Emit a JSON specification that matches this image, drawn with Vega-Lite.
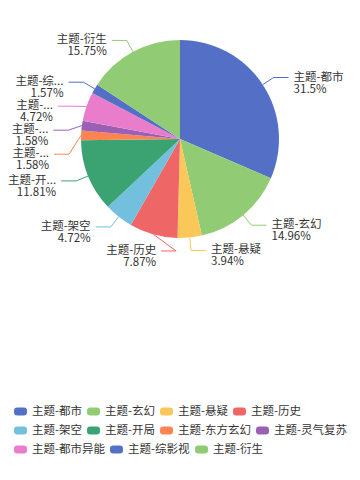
{
  "$schema": "https://vega.github.io/schema/vega-lite/v6.json",
  "width": 360,
  "height": 278,
  "padding": 0,
  "background": "#ffffff",
  "config": {
    "view": {"stroke": null},
    "font": "Noto Sans CJK SC",
    "legend": {
      "orient": "none",
      "direction": "horizontal",
      "padding": 0,
      "labelFontSize": 11.5,
      "labelColor": "#333333",
      "labelOffset": 5,
      "columnPadding": 5,
      "symbolOpacity": 1,
      "symbolStrokeWidth": 0
    }
  },
  "data": {
    "values": [
      {"name": "主题-都市", "label": "主题-都市", "value": 31.5},
      {"name": "主题-玄幻", "label": "主题-玄幻", "value": 14.96},
      {"name": "主题-悬疑", "label": "主题-悬疑", "value": 3.94},
      {"name": "主题-历史", "label": "主题-历史", "value": 7.87},
      {"name": "主题-架空", "label": "主题-架空", "value": 4.72},
      {"name": "主题-开局", "label": "主题-开...", "value": 11.81},
      {"name": "主题-东方玄幻", "label": "主题-...", "value": 1.58},
      {"name": "主题-灵气复苏", "label": "主题-...", "value": 1.58},
      {"name": "主题-都市异能", "label": "主题-...", "value": 4.72},
      {"name": "主题-综影视", "label": "主题-综...", "value": 1.57},
      {"name": "主题-衍生", "label": "主题-衍生", "value": 15.75}
    ]
  },
  "transform": [
    {"window": [{"op": "row_number", "as": "i"}]},
    {"joinaggregate": [{"op": "sum", "field": "value", "as": "total"}]},
    {"window": [{"op": "sum", "field": "value", "as": "cum"}], "sort": [{"field": "i"}], "frame": [null, 0]},
    {"calculate": "2*PI*(datum.cum - datum.value/2)/datum.total", "as": "a"},
    {"calculate": "sin(datum.a) >= 0 ? 1 : -1", "as": "side"},
    {"calculate": "112*cos(datum.a)", "as": "yn"},
    {"window": [{"op": "row_number", "as": "k"}], "groupby": ["side"], "sort": [{"field": "yn", "order": "descending"}]},
    {"calculate": "datum.yn + 24*datum.k", "as": "z"},
    {"window": [{"op": "min", "field": "z", "as": "zm"}], "groupby": ["side"], "sort": [{"field": "yn", "order": "descending"}], "frame": [null, 0]},
    {"calculate": "datum.zm - 24*datum.k", "as": "ya"},
    {"calculate": "datum.side*sqrt(max(0, 112*112 - datum.ya*datum.ya))", "as": "cx"},
    {"calculate": "datum.cx + datum.side*15", "as": "ex"},
    {"calculate": "datum.cx + datum.side*20", "as": "tx"},
    {"calculate": "99*sin(datum.a)", "as": "x0"},
    {"calculate": "99*cos(datum.a)", "as": "y0"},
    {"calculate": "datum.label + '\\n' + datum.value + '%'", "as": "txt"}
  ],
  "layer": [
    {
      "mark": {"type": "arc", "outerRadius": 99},
      "encoding": {
        "theta": {"field": "value", "type": "quantitative", "stack": true},
        "order": {"field": "i", "type": "quantitative"},
        "fill": {
          "field": "name",
          "type": "nominal",
          "scale": {
            "domain": ["主题-都市", "主题-玄幻", "主题-悬疑", "主题-历史", "主题-架空", "主题-开局", "主题-东方玄幻", "主题-灵气复苏", "主题-都市异能", "主题-综影视", "主题-衍生"],
            "range": ["#5470c6", "#91cc75", "#fac858", "#ee6666", "#73c0de", "#3ba272", "#fc8452", "#9a60b4", "#ea7ccc", "#5470c6", "#91cc75"]
          },
          "legend": {
            "title": null,
            "legendX": 14,
            "legendY": 405,
            "values": ["主题-都市", "主题-玄幻", "主题-悬疑", "主题-历史"],
            "symbolType": "M-0.5,-0.62H0.5Q1,-0.62 1,-0.12V0.12Q1,0.62 0.5,0.62H-0.5Q-1,0.62 -1,0.12V-0.12Q-1,-0.62 -0.5,-0.62Z",
            "symbolSize": 169,
            "symbolStrokeWidth": 0
          }
        }
      }
    },
    {
      "mark": {"type": "rule", "strokeWidth": 1},
      "encoding": {
        "x": {"field": "x0", "type": "quantitative", "scale": {"domain": [-180, 180], "nice": false, "zero": false}, "axis": null},
        "y": {"field": "y0", "type": "quantitative", "scale": {"domain": [-139, 139], "nice": false, "zero": false}, "axis": null},
        "x2": {"field": "cx"},
        "y2": {"field": "ya"},
        "stroke": {
          "field": "name",
          "type": "nominal",
          "scale": {
            "domain": ["主题-衍生", "主题-综影视", "主题-都市异能", "主题-灵气复苏", "主题-东方玄幻", "主题-开局", "主题-架空", "主题-历史", "主题-悬疑", "主题-玄幻", "主题-都市"],
            "range": ["#91cc75", "#5470c6", "#ea7ccc", "#9a60b4", "#fc8452", "#3ba272", "#73c0de", "#ee6666", "#fac858", "#91cc75", "#5470c6"]
          },
          "legend": {
            "title": null,
            "legendX": 14,
            "legendY": 424,
            "values": ["主题-架空", "主题-开局", "主题-东方玄幻", "主题-灵气复苏"],
            "symbolType": "M-0.5,-0.62H0.5Q1,-0.62 1,-0.12V0.12Q1,0.62 0.5,0.62H-0.5Q-1,0.62 -1,0.12V-0.12Q-1,-0.62 -0.5,-0.62Z",
            "symbolSize": 169,
            "symbolStrokeWidth": 0,
            "encode": {"symbols": {"update": {"fill": {"scale": "stroke", "field": "value"}, "fillOpacity": {"value": 1}, "strokeWidth": {"value": 0}}}}
          }
        }
      }
    },
    {
      "mark": {"type": "rule", "strokeWidth": 1},
      "encoding": {
        "x": {"field": "cx", "type": "quantitative", "scale": {"domain": [-180, 180], "nice": false, "zero": false}, "axis": null},
        "y": {"field": "ya", "type": "quantitative", "scale": {"domain": [-139, 139], "nice": false, "zero": false}, "axis": null},
        "x2": {"field": "ex"},
        "color": {
          "field": "name",
          "type": "nominal",
          "scale": {
            "domain": ["主题-架空", "主题-开局", "主题-东方玄幻", "主题-灵气复苏", "主题-都市异能", "主题-综影视", "主题-衍生", "主题-都市", "主题-玄幻", "主题-悬疑", "主题-历史"],
            "range": ["#73c0de", "#3ba272", "#fc8452", "#9a60b4", "#ea7ccc", "#5470c6", "#91cc75", "#5470c6", "#91cc75", "#fac858", "#ee6666"]
          },
          "legend": {
            "title": null,
            "legendX": 14,
            "legendY": 443,
            "values": ["主题-都市异能", "主题-综影视", "主题-衍生"],
            "symbolType": "M-0.5,-0.62H0.5Q1,-0.62 1,-0.12V0.12Q1,0.62 0.5,0.62H-0.5Q-1,0.62 -1,0.12V-0.12Q-1,-0.62 -0.5,-0.62Z",
            "symbolSize": 169,
            "symbolStrokeWidth": 0,
            "encode": {"symbols": {"update": {"fill": {"scale": "color", "field": "value"}, "fillOpacity": {"value": 1}, "strokeWidth": {"value": 0}}}}
          }
        }
      }
    },
    {
      "transform": [{"filter": "datum.side > 0"}],
      "mark": {"type": "text", "align": "left", "baseline": "middle", "lineBreak": "\n", "lineHeight": 12, "fontSize": 11.5, "color": "#333333"},
      "encoding": {
        "x": {"field": "tx", "type": "quantitative", "scale": {"domain": [-180, 180], "nice": false, "zero": false}, "axis": null},
        "y": {"field": "ya", "type": "quantitative", "scale": {"domain": [-139, 139], "nice": false, "zero": false}, "axis": null},
        "text": {"field": "txt"}
      }
    },
    {
      "transform": [{"filter": "datum.side < 0"}],
      "mark": {"type": "text", "align": "right", "baseline": "middle", "lineBreak": "\n", "lineHeight": 12, "fontSize": 11.5, "color": "#333333"},
      "encoding": {
        "x": {"field": "tx", "type": "quantitative", "scale": {"domain": [-180, 180], "nice": false, "zero": false}, "axis": null},
        "y": {"field": "ya", "type": "quantitative", "scale": {"domain": [-139, 139], "nice": false, "zero": false}, "axis": null},
        "text": {"field": "txt"}
      }
    }
  ]
}
